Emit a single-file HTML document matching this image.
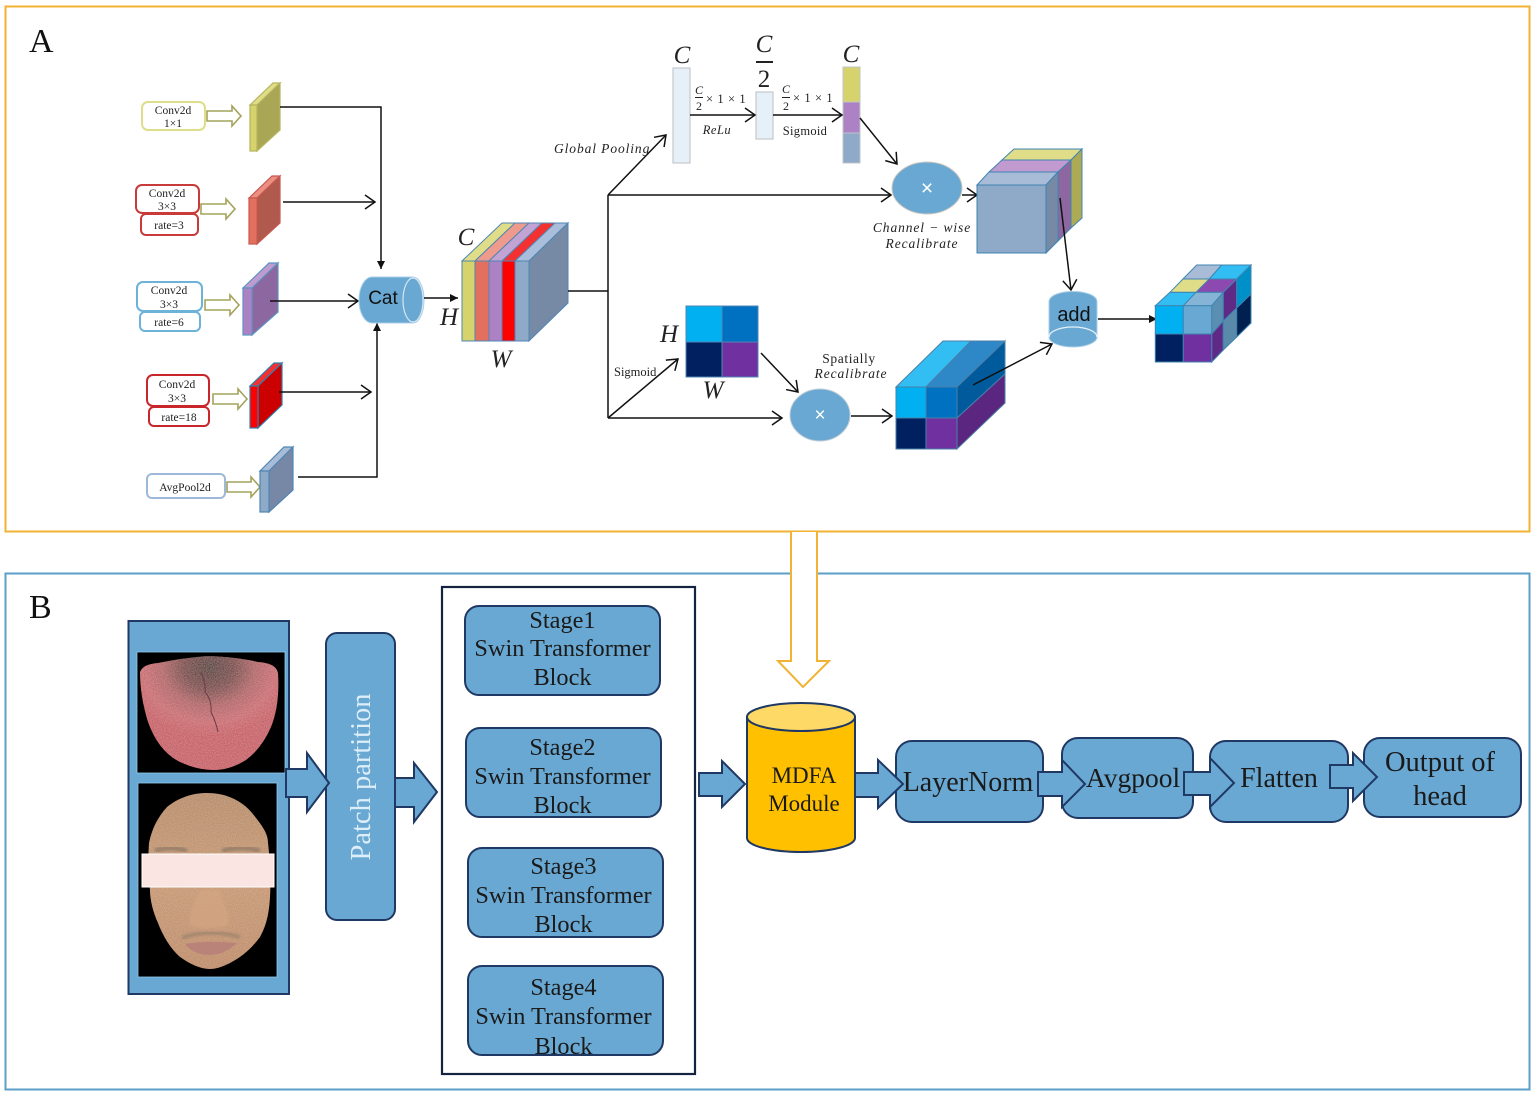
<!DOCTYPE html>
<html><head><meta charset="utf-8"><style>
html,body{margin:0;padding:0;background:#fff}
svg{display:block}
text{font-family:"Liberation Serif",serif}
.i{font-style:italic;fill:#222}
.b{fill:#69a8d2;stroke:#1f3864;stroke-width:2}
.t{fill:#1a1a1a;text-anchor:middle}
.l{stroke:#111;stroke-width:1.5;fill:none}
.h{fill:#fff;stroke:#a3a35c;stroke-width:1.6}
.s{font-size:11.5px;text-anchor:middle;fill:#222}
</style></head><body>
<svg width="1535" height="1095" viewBox="0 0 1535 1095" xmlns="http://www.w3.org/2000/svg">
<defs>
<marker id="o" markerUnits="userSpaceOnUse" markerWidth="14" markerHeight="16" refX="11" refY="7" orient="auto" overflow="visible"><path d="M1 0L11 7L1 14" fill="none" stroke="#111" stroke-width="1.5"/></marker>
<marker id="f" markerUnits="userSpaceOnUse" markerWidth="10" markerHeight="10" refX="8" refY="4" orient="auto" overflow="visible"><path d="M0 0L8 4L0 8Z" fill="#111"/></marker>
<radialGradient id="tg" cx="50%" cy="10%" r="60%"><stop offset="0" stop-color="#5f4742"/><stop offset=".3" stop-color="#80504f"/><stop offset=".55" stop-color="#b4686a"/><stop offset=".8" stop-color="#cc7075"/><stop offset="1" stop-color="#c9646a"/></radialGradient>
<linearGradient id="fg" x1="0" y1="0" x2="0" y2="1"><stop offset="0" stop-color="#b98e69"/><stop offset=".5" stop-color="#c89a74"/><stop offset="1" stop-color="#c08e6a"/></linearGradient>
<filter id="n" x="0" y="0" width="100%" height="100%"><feTurbulence type="fractalNoise" baseFrequency=".9" numOctaves="2" seed="3"/><feColorMatrix values="0 0 0 0 1 0 0 0 0 1 0 0 0 0 1 0 0 0 .3 -.1"/><feComposite in2="SourceGraphic" operator="in"/><feMerge><feMergeNode in="SourceGraphic"/><feMergeNode/></feMerge></filter>
<filter id="bl" x="-20%" y="-20%" width="140%" height="140%"><feGaussianBlur stdDeviation="1.2"/></filter>
</defs>
<rect width="1535" height="1095" fill="#fff"/>
<rect x="5.5" y="6.5" width="1524" height="525" fill="#fff" stroke="#f2b233" stroke-width="2"/>
<rect x="5.5" y="573.5" width="1524" height="516" fill="#fff" stroke="#5b9fca" stroke-width="2"/>
<text x="29" y="52" font-size="34" fill="#111">A</text>
<text x="29" y="618" font-size="34" fill="#111">B</text>

<!-- orange connector -->
<path d="M791 532V661H778L803 687L829 661H817V532" fill="#fff" stroke="#f2b233" stroke-width="2"/>

<!-- A: left column boxes -->
<g fill="#fff" stroke-width="2">
<rect x="142" y="102" width="63" height="28" rx="6" stroke="#dede8a"/>
<rect x="136" y="185" width="63" height="28" rx="6" stroke="#c93a3a"/>
<rect x="141" y="214" width="57" height="21" rx="5" stroke="#c93a3a"/>
<rect x="137" y="282" width="65" height="29" rx="6" stroke="#6db2d8"/>
<rect x="140" y="312" width="60" height="19" rx="5" stroke="#6db2d8"/>
<rect x="147" y="375" width="62" height="31" rx="6" stroke="#c8262b"/>
<rect x="149" y="407" width="60" height="19" rx="5" stroke="#c8262b"/>
<rect x="147" y="474" width="78" height="24" rx="5" stroke="#9db8d8"/>
</g>
<text class="s" x="173" y="114">Conv2d</text><text class="s" x="173" y="127">1×1</text>
<text class="s" x="167" y="197">Conv2d</text><text class="s" x="167" y="210">3×3</text><text class="s" x="169" y="229">rate=3</text>
<text class="s" x="169" y="294">Conv2d</text><text class="s" x="169" y="308">3×3</text><text class="s" x="169" y="326">rate=6</text>
<text class="s" x="177" y="388">Conv2d</text><text class="s" x="177" y="402">3×3</text><text class="s" x="179" y="421">rate=18</text>
<text class="s" x="185" y="491">AvgPool2d</text>
<!-- hollow arrows -->
<path class="h" d="M207 111H232V106L241 116L232 126V121H207Z"/>
<path class="h" d="M201 204H226V199L235 209L226 219V214H201Z"/>
<path class="h" d="M205 300H230V295L239 305L230 315V310H205Z"/>
<path class="h" d="M213 394H238V389L247 399L238 409V404H213Z"/>
<path class="h" d="M227 482H251V477L260 487L251 497V492H227Z"/>
<!-- feature slabs -->
<g stroke-width="1.2">
<g stroke="#b5b55c"><path fill="#e0dd88" d="M250 105L273 83H280L257 105Z"/><path fill="#a9a656" d="M257 105L280 83V130L257 151Z"/><rect x="250" y="105" width="7" height="46" fill="#d6d36c"/></g>
<g stroke="#c9584f"><path fill="#ea8f82" d="M249 198L272 176H280L257 198Z"/><path fill="#b05a4e" d="M257 198L280 176V223L257 244Z"/><rect x="249" y="198" width="8" height="46" fill="#e3705f"/></g>
<g stroke="#5a94c0"><path fill="#c09bd0" d="M243 288L269 263H278L252 288Z"/><path fill="#8d67a0" d="M252 288L278 263V312L252 335Z"/><rect x="243" y="288" width="9" height="47" fill="#ad82c4"/></g>
<g stroke="#2f7fae"><path fill="#f43030" d="M250 386L274 363H282L258 386Z"/><path fill="#cc0000" d="M258 386L282 363V405L258 428Z"/><rect x="250" y="386" width="8" height="42" fill="#ff0000"/></g>
<g stroke="#4f86b4"><path fill="#a8bcd8" d="M260 471L284 447H293L269 471Z"/><path fill="#7688a5" d="M269 471L293 447V490L269 512Z"/><rect x="260" y="471" width="9" height="41" fill="#8fa9c8"/></g>
</g>
<!-- lines to Cat -->
<path class="l" d="M280 107H381V269" marker-end="url(#f)"/>
<path class="l" d="M283 202H375" marker-end="url(#o)"/>
<path class="l" d="M270 301H358" marker-end="url(#o)"/>
<path class="l" d="M279 392H371" marker-end="url(#o)"/>
<path class="l" d="M298 477H377V323" marker-end="url(#f)"/>
<!-- Cat -->
<path d="M372 277H413A11 23 0 0 1 413 323H372A13 23 0 0 1 372 277Z" fill="#69a8d2" stroke="#a9cfe6"/>
<ellipse cx="413" cy="300" rx="10" ry="22" fill="#69a8d2" stroke="#d4e6f2" stroke-width="1.2"/>
<text x="383" y="304" font-size="19" text-anchor="middle" fill="#111" style="font-family:'Liberation Sans',sans-serif">Cat</text>
<path class="l" d="M424 298H458" marker-end="url(#f)"/>
<!-- big block -->
<g stroke="#4f86b4" stroke-width="1">
<path fill="#e0dd88" d="M462 261L502 223H515L475 261Z"/>
<path fill="#ee9a8c" d="M475 261L515 223H529L489 261Z"/>
<path fill="#c3a3d4" d="M489 261L529 223H542L502 261Z"/>
<path fill="#f43030" d="M502 261L542 223H555L515 261Z"/>
<path fill="#aabedb" d="M515 261L555 223H568L529 261Z"/>
<path fill="#768aa5" d="M529 261L568 223V303L529 341Z"/>
<rect x="462" y="261" width="13" height="80" fill="#d6d36c"/>
<rect x="475" y="261" width="14" height="80" fill="#e3705f"/>
<rect x="489" y="261" width="13" height="80" fill="#ad82c4"/>
<rect x="502" y="261" width="13" height="80" fill="#ff0000"/>
<rect x="515" y="261" width="14" height="80" fill="#8fa9c8"/>
</g>
<text class="i" x="466" y="245" font-size="25" text-anchor="middle">C</text>
<text class="i" x="449" y="325" font-size="25" text-anchor="middle">H</text>
<text class="i" x="501" y="367" font-size="25" text-anchor="middle">W</text>
<!-- branch lines -->
<path class="l" d="M568 291H608"/>
<path class="l" d="M608 195V418"/>
<path class="l" d="M608 195L666 135" marker-end="url(#o)"/>
<path class="l" d="M608 195H891" marker-end="url(#o)"/>
<path class="l" d="M608 418H782" marker-end="url(#o)"/>
<path class="l" d="M608 418L678 359" marker-end="url(#o)"/>
<text class="i" x="554" y="153" font-size="13.5" letter-spacing=".9">Global Pooling</text>
<text x="614" y="376" font-size="12.5" fill="#222">Sigmoid</text>
<!-- channel bars -->
<rect x="673" y="68" width="17" height="95" fill="#e6f0f8" stroke="#c4c8cc" stroke-width="1.2"/>
<rect x="756" y="92" width="17" height="47" fill="#e6f0f8" stroke="#c4c8cc" stroke-width="1.2"/>
<g stroke="#bfc4c8" stroke-width="1"><rect x="843" y="67" width="17" height="35" fill="#d6d36c"/><rect x="843" y="102" width="17" height="31" fill="#ad82c4"/><rect x="843" y="133" width="17" height="30" fill="#8fa9c8"/></g>
<path class="l" d="M690 115H755" marker-end="url(#o)"/>
<path class="l" d="M773 115H842" marker-end="url(#o)"/>
<text class="i" x="682" y="63" font-size="25" text-anchor="middle">C</text>
<text class="i" x="764" y="52" font-size="25" text-anchor="middle">C</text>
<rect x="756" y="61" width="17" height="2" fill="#222"/>
<text x="764" y="87" font-size="25" text-anchor="middle" fill="#222">2</text>
<text class="i" x="851" y="62" font-size="25" text-anchor="middle">C</text>
<text class="i" x="699" y="94" font-size="12" text-anchor="middle">C</text><rect x="695" y="97" width="8" height="1" fill="#222"/><text x="699" y="110" font-size="12" text-anchor="middle" fill="#222">2</text>
<text x="706" y="103" font-size="12.5" fill="#222" letter-spacing=".6">× 1 × 1</text>
<text class="i" x="786" y="93" font-size="12" text-anchor="middle">C</text><rect x="782" y="97" width="8" height="1" fill="#222"/><text x="786" y="110" font-size="12" text-anchor="middle" fill="#222">2</text>
<text x="793" y="102" font-size="12.5" fill="#222" letter-spacing=".6">× 1 × 1</text>
<text class="i" x="717" y="134" font-size="12.5" text-anchor="middle" letter-spacing=".5">ReLu</text>
<text x="805" y="135" font-size="12.5" text-anchor="middle" fill="#222" letter-spacing=".3">Sigmoid</text>
<!-- mask -->
<g stroke="#4f86b4" stroke-width="1">
<rect x="686" y="306" width="36" height="36" fill="#00b0f0"/><rect x="722" y="306" width="36" height="36" fill="#0070c0"/>
<rect x="686" y="342" width="36" height="35" fill="#002060"/><rect x="722" y="342" width="36" height="35" fill="#7030a0"/>
</g>
<text class="i" x="669" y="342" font-size="25" text-anchor="middle">H</text>
<text class="i" x="713" y="398" font-size="25" text-anchor="middle">W</text>
<path class="l" d="M761 353L798 392" marker-end="url(#o)"/>
<!-- multiply ellipses -->
<ellipse cx="820" cy="415" rx="30" ry="26" fill="#69a8d2" stroke="#c0cdd6"/>
<text x="820" y="421" font-size="19" text-anchor="middle" fill="#fff" style="font-family:'Liberation Sans',sans-serif">×</text>
<ellipse cx="927" cy="188" rx="35" ry="26" fill="#69a8d2" stroke="#d2c9bf"/>
<text x="927" y="195" font-size="21" text-anchor="middle" fill="#fff" style="font-family:'Liberation Sans',sans-serif">×</text>
<path class="l" d="M860 118L897 164" marker-end="url(#o)"/>
<path class="l" d="M962 195H977" marker-end="url(#o)"/>
<path class="l" d="M851 416H892" marker-end="url(#o)"/>
<text class="i" x="922" y="232" font-size="13.5" text-anchor="middle" letter-spacing=".9">Channel − wise</text>
<text class="i" x="922" y="248" font-size="13.5" text-anchor="middle" letter-spacing=".9">Recalibrate</text>
<text x="849" y="363" font-size="13.5" text-anchor="middle" fill="#222" letter-spacing=".6">Spatially</text>
<text class="i" x="851" y="378" font-size="13.5" text-anchor="middle" letter-spacing=".9">Recalibrate</text>
<!-- channel cube -->
<g stroke="#3f84b2" stroke-width="1">
<path fill="#e0dd88" d="M1002 160L1014 149H1082L1071 160Z"/>
<path fill="#c19ad0" d="M989 172L1002 160H1071L1058 172Z"/>
<path fill="#a8bcd8" d="M977 185L989 172H1058L1046 185Z"/>
<path fill="#adaa56" d="M1071 160L1082 149V218L1071 228Z"/>
<path fill="#8d67a0" d="M1058 172L1071 160V228L1058 241Z"/>
<path fill="#768aa5" d="M1046 185L1058 172V241L1046 253Z"/>
<rect x="977" y="185" width="69" height="68" fill="#8fa9c8"/>
</g>
<!-- spatial block -->
<g stroke="#4a7fa8" stroke-width="1">
<path fill="#33bef3" d="M896 387L943 341H971L926 387Z"/>
<path fill="#2e88c8" d="M926 387L971 341H1005L957 387Z"/>
<path fill="#005a9c" d="M957 387L1005 341V374L957 418Z"/>
<path fill="#5a2680" d="M957 418L1005 374V403L957 449Z"/>
<rect x="896" y="387" width="30" height="31" fill="#00b0f0"/><rect x="926" y="387" width="31" height="31" fill="#0070c0"/>
<rect x="896" y="418" width="30" height="31" fill="#002060"/><rect x="926" y="418" width="31" height="31" fill="#7030a0"/>
</g>
<!-- add -->
<path d="M1049 302C1049 288 1097 288 1097 302V337A24 10 0 0 1 1049 337Z" fill="#69a8d2" stroke="#a9cfe6"/>
<path d="M1049 337A24 10 0 0 1 1097 337" fill="none" stroke="#e4f0f7" stroke-width="1.3"/>
<text x="1074" y="321" font-size="20" text-anchor="middle" fill="#111" style="font-family:'Liberation Sans',sans-serif">add</text>
<path class="l" d="M1060 198L1071 290" marker-end="url(#o)"/>
<path class="l" d="M973 385L1052 344" marker-end="url(#o)"/>
<path class="l" d="M1098 319H1157" marker-end="url(#f)"/>
<!-- output block -->
<g stroke="#3f84b2" stroke-width="1">
<path fill="#33bef3" d="M1155.3 305.7L1170 292.3H1196L1183.3 305.7Z"/>
<path fill="#85b4d6" d="M1183.3 305.7L1196 292.3H1223.3L1211.7 305.7Z"/>
<path fill="#e0dd88" d="M1170 292.3L1183 279H1209.3L1196 292.3Z"/>
<path fill="#8c4ab0" d="M1196 292.3L1209.3 279H1236.7L1223.3 292.3Z"/>
<path fill="#a8bcd8" d="M1183 279L1196.7 265H1221.7L1209.3 279Z"/>
<path fill="#33bef3" d="M1209.3 279L1221.7 265H1251L1236.7 279Z"/>
<path fill="#5b8fb2" d="M1211.7 305.7L1223.3 292.3V321L1211.7 334Z"/>
<path fill="#5e2a85" d="M1211.7 334L1223.3 321V350L1211.7 362Z"/>
<path fill="#5e2a85" d="M1223.3 292.3L1236.7 279V308L1223.3 321Z"/>
<path fill="#5a8aaa" d="M1223.3 321L1236.7 308V337L1223.3 350Z"/>
<path fill="#0090c8" d="M1236.7 279L1251 265V294L1236.7 308Z"/>
<path fill="#002050" d="M1236.7 308L1251 294V323L1236.7 337Z"/>
<rect x="1155.3" y="305.7" width="28" height="28.3" fill="#00b0f0"/>
<rect x="1183.3" y="305.7" width="28.4" height="28.3" fill="#69a8d2"/>
<rect x="1155.3" y="334" width="28" height="28" fill="#002060"/>
<rect x="1183.3" y="334" width="28.4" height="28" fill="#7030a0"/>
</g>

<!-- B: image panel -->
<rect x="128.5" y="621" width="160.5" height="373" fill="#69a8d2" stroke="#1f3864" stroke-width="2"/>
<rect x="137" y="652" width="148" height="121" fill="#000" stroke="#8fc8ea" stroke-width=".8"/>
<path d="M140 672Q143 664 158 663Q182 658 207 656Q238 657 258 662Q276 663 278 673Q280 705 271 727Q262 748 246 760Q230 770 214 770Q196 770 178 761Q158 750 148 722Q140 696 140 672Z" fill="url(#tg)" filter="url(#n)"/>
<path d="M201 672Q206 684 205 692Q212 700 211 712Q216 722 218 732" fill="none" stroke="#6c3d44" stroke-width="1"/>
<rect x="138" y="783" width="139" height="194" fill="#000" stroke="#8fc8ea" stroke-width=".8"/>
<path d="M207 793C228 793 245 802 256 818C264 828 268 835 268 843C270 860 271 880 270 897C269 915 266 926 260 937C252 948 242 957 230 963C222 967 216 969 210 969C200 969 190 964 180 957C170 948 163 936 158 923C153 912 150 900 150 890C148 875 148 858 149 843C152 828 158 817 167 807C178 798 192 793 207 793Z" fill="url(#fg)" filter="url(#n)"/>
<path d="M155 851Q170 845 187 851M222 851Q242 845 260 851" fill="none" stroke="#857362" stroke-width="5" opacity=".65" filter="url(#bl)"/>
<path d="M190 925C188 912 196 900 200 890H219C222 900 230 912 228 925C220 929 198 929 190 925Z" fill="#d4a682" opacity=".7" filter="url(#bl)"/>
<path d="M182 938Q208 928 240 937" fill="none" stroke="#8b7a66" stroke-width="4" opacity=".55" filter="url(#bl)"/>
<path d="M185 944Q208 940 237 943Q224 955 210 955Q194 955 185 944Z" fill="#b9837a"/>
<rect x="142" y="854" width="132" height="33" fill="#fbe5e2" stroke="#fff" stroke-width="1"/>
<!-- Patch partition -->
<rect class="b" x="326" y="633" width="69" height="287" rx="11"/>
<text transform="translate(370,777) rotate(-90)" font-size="28.5" text-anchor="middle" fill="#deeef8">Patch partition</text>
<path class="b" d="M286 769H307V753L329 783L307 812V797H286Z"/>
<path class="b" d="M395 778H414V763L437 792L414 822V807H395Z"/>
<!-- Stage box -->
<rect x="442" y="587" width="253" height="487" fill="#fff" stroke="#14233f" stroke-width="2.2"/>
<rect class="b" x="465" y="606" width="195" height="89" rx="14"/>
<rect class="b" x="466" y="728" width="195" height="89" rx="14"/>
<rect class="b" x="468" y="848" width="195" height="89" rx="14"/>
<rect class="b" x="468" y="966" width="195" height="89" rx="14"/>
<g font-size="24.3">
<text class="t" x="562.5" y="628">Stage1</text><text class="t" x="562.5" y="656">Swin Transformer</text><text class="t" x="562.5" y="685">Block</text>
<text class="t" x="562.5" y="755">Stage2</text><text class="t" x="562.5" y="784">Swin Transformer</text><text class="t" x="562.5" y="813">Block</text>
<text class="t" x="563.5" y="874">Stage3</text><text class="t" x="563.5" y="903">Swin Transformer</text><text class="t" x="563.5" y="932">Block</text>
<text class="t" x="563.5" y="995">Stage4</text><text class="t" x="563.5" y="1024">Swin Transformer</text><text class="t" x="563.5" y="1054">Block</text>
</g>
<!-- MDFA -->
<path class="b" d="M699 773H722V761L745 784L722 807V796H699Z"/>
<path d="M747 717V838A54 14 0 0 0 855 838V717Z" fill="#ffc000" stroke="#1f3864" stroke-width="2"/>
<ellipse cx="801" cy="717" rx="54" ry="14" fill="#ffd966" stroke="#1f3864" stroke-width="2"/>
<text class="t" x="804" y="783" font-size="23">MDFA</text>
<text class="t" x="804" y="811" font-size="23">Module</text>
<!-- pipeline -->
<rect class="b" x="896" y="741" width="147" height="81" rx="16"/>
<rect class="b" x="1062" y="738" width="131" height="80" rx="16"/>
<rect class="b" x="1210" y="741" width="138" height="81" rx="16"/>
<rect class="b" x="1364" y="738" width="157" height="79" rx="16"/>
<path class="b" d="M855 773H878V760L903 784L878 808V797H855Z"/>
<path class="b" d="M1038 772H1062V760L1085 784L1062 807V796H1038Z"/>
<path class="b" d="M1184 772H1210V758L1234 783L1210 807V795H1184Z"/>
<path class="b" d="M1330 765H1353V753L1377 777L1353 801V788H1330Z"/>
<text class="t" x="968" y="791" font-size="28">LayerNorm</text>
<text class="t" x="1133" y="787" font-size="27.5">Avgpool</text>
<text class="t" x="1279" y="787" font-size="28">Flatten</text>
<text class="t" x="1440" y="771" font-size="28.5">Output of</text>
<text class="t" x="1440" y="805" font-size="28.5">head</text>
</svg>
</body></html>
